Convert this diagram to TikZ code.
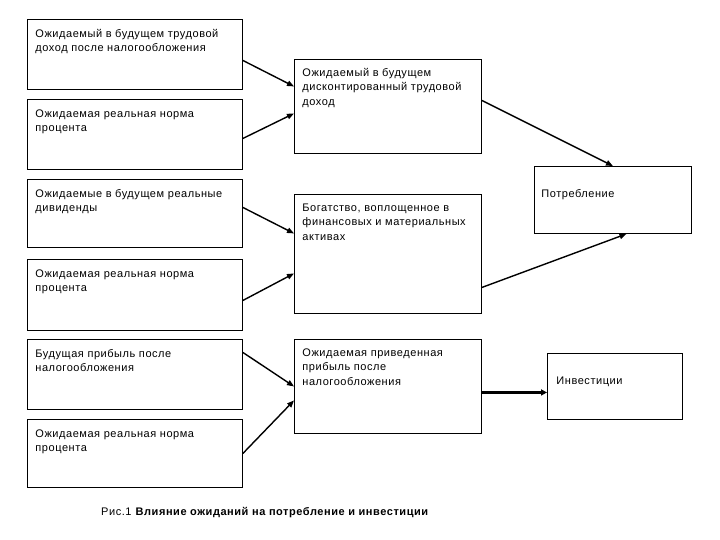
\documentclass[tikz,border=0pt]{standalone}
\usepackage{fontspec}
\setmainfont[LetterSpace=5]{Liberation Sans}
\usetikzlibrary{arrows.meta}
\newcommand{\bxt}[5]{\parbox[b][#2pt][t]{#1pt}{\raggedright\leftskip=#3pt\rightskip=0pt plus 1fil\baselineskip=14.5pt\rule{0pt}{#4pt}#5}}
\begin{document}
\begin{tikzpicture}[x=1pt,y=-1pt,
  box/.style={draw=black,line width=0.9pt,inner sep=0pt,anchor=north west,font=\fontsize{11}{14.5}\selectfont},
  arr/.style={line width=1.4pt,-{Triangle[length=7pt,width=5.5pt]}},
  thickarr/.style={line width=2.4pt,-{Triangle[length=6pt,width=6pt]}}]
\useasboundingbox[fill=white] (0,0) rectangle (720,540);
\node[box] (b1) at (27,19) {\bxt{215}{70}{8}{18}{Ожидаемый в будущем трудовой\\доход после налогообложения}};
\node[box] (b2) at (27,99) {\bxt{215}{70}{8}{18}{Ожидаемая реальная норма\\процента}};
\node[box] (b3) at (27,179) {\bxt{215}{68}{8}{18}{Ожидаемые в будущем реальные\\дивиденды}};
\node[box] (b4) at (27,259) {\bxt{215}{71}{8}{18}{Ожидаемая реальная норма\\процента}};
\node[box] (b5) at (27,339) {\bxt{215}{70}{8}{18}{Будущая прибыль после\\налогообложения}};
\node[box] (b6) at (27,419) {\bxt{215}{68}{8}{18}{Ожидаемая реальная норма\\процента}};
\node[box] (m1) at (294,59) {\bxt{187}{94}{8}{17}{Ожидаемый в будущем\\дисконтированный трудовой\\доход}};
\node[box] (m2) at (294,194) {\bxt{187}{119}{8}{17}{Богатство, воплощенное в\\финансовых и материальных\\активах}};
\node[box] (m3) at (294,339) {\bxt{187}{94}{8}{17}{Ожидаемая приведенная\\прибыль после\\налогообложения}};
\node[box] (p) at (534,166) {\bxt{157}{67}{7}{31}{Потребление}};
\node[box] (inv) at (547,353) {\bxt{135}{66}{9}{31}{Инвестиции}};
\node[anchor=base west,inner sep=0pt,font=\fontsize{11}{12}\selectfont] (cap) at (101,515) {Рис.1 \textbf{Влияние ожиданий на потребление и инвестиции}};
\draw[arr] ([yshift=-6pt]b1.east) -- ([yshift=20pt]m1.west);
\draw[arr] ([yshift=-4pt]b2.east) -- ([yshift=-7pt]m1.west);
\draw[arr] ([yshift=6pt]b3.east) -- ([yshift=20.5pt]m2.west);
\draw[arr] ([yshift=-5.5pt]b4.east) -- ([yshift=-19.5pt]m2.west);
\draw[arr] ([yshift=22pt]b5.east) -- (m3.west);
\draw[arr] (b6.east) -- ([yshift=-14pt]m3.west);
\draw[arr] ([yshift=6pt]m1.east) -- (p.north);
\draw[arr] ([yshift=-33.5pt]m2.east) -- ([xshift=13.5pt]p.south);
\draw[thickarr] ([yshift=-6pt]m3.east) -- ([yshift=-6pt]inv.west);
\end{tikzpicture}
\end{document}
